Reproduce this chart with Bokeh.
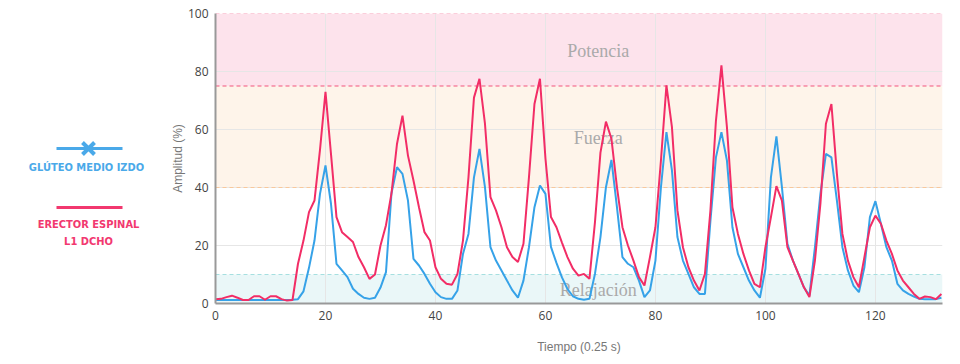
from bokeh.plotting import figure
from bokeh.models import Range1d, BoxAnnotation, Span, FixedTicker
from bokeh.layouts import row
from bokeh.core.properties import value
from bokeh.embed import file_html
from bokeh.resources import INLINE

tiempo = list(range(133))

gluteo_medio_izdo = [
    1.2, 1.2, 1.2, 1.2, 1.2, 1.2, 1.2, 1.2, 1.2, 1.2, 1.2, 1.2, 1.2, 1.2, 1.3,
    1.5, 4.2, 12.3, 21.7, 37.8, 47.6, 34.4, 13.7, 11.4, 9.1, 5.1, 3.3, 2.0, 1.6, 2.0,
    5.5, 10.8, 38.0, 47.0, 44.7, 35.5, 15.4, 13.1, 10.2, 6.8, 3.9, 2.2, 1.6, 1.6, 4.5,
    17.1, 24.0, 43.5, 53.3, 40.1, 19.4, 14.8, 11.4, 7.9, 4.5, 2.0, 7.9, 19.4, 33.2, 40.7,
    37.8, 19.5, 14.0, 9.0, 5.0, 2.5, 1.6, 1.3, 1.6, 10.2, 22.9, 40.1, 49.5, 33.2, 16.0,
    13.7, 12.5, 7.9, 2.2, 4.5, 14.8, 40.1, 59.1, 45.9, 22.9, 14.8, 10.2, 5.6, 3.3, 3.3,
    28.6, 50.4, 59.1, 49.3, 26.3, 17.1, 12.5, 7.9, 4.5, 2.0, 12.0, 43.5, 57.6, 40.1, 20.6,
    14.8, 10.2, 5.6, 2.7, 19.4, 37.8, 51.6, 50.4, 35.5, 19.4, 11.4, 6.2, 3.9, 12.5, 29.8,
    35.3, 27.5, 19.4, 14.8, 6.8, 4.5, 3.3, 2.4, 1.6, 1.5, 1.5, 1.5, 2.0,
]

erector_espinal_l1_dcho = [
    1.5, 1.6, 2.2, 2.7, 2.0, 1.2, 1.2, 2.5, 2.5, 1.3, 2.5, 2.5, 1.5, 1.0, 1.2,
    13.7, 21.7, 31.5, 35.5, 53.0, 73.0, 51.6, 29.8, 24.6, 22.9, 21.2, 16.0, 12.5, 8.5, 10.0,
    20.0, 27.0, 38.0, 55.0, 64.8, 51.0, 42.4, 33.2, 24.6, 21.7, 12.5, 8.5, 6.8, 6.5, 10.2,
    21.7, 43.5, 71.0, 77.5, 62.0, 36.7, 32.1, 26.3, 19.4, 16.0, 14.3, 20.6, 43.5, 68.8, 77.5,
    50.0, 29.8, 26.3, 21.0, 16.0, 12.0, 9.6, 10.2, 8.5, 28.0, 52.0, 62.7, 56.8, 40.1, 26.3,
    20.0, 14.8, 9.1, 6.2, 16.0, 26.3, 49.3, 75.2, 60.8, 32.1, 19.4, 12.5, 7.9, 4.5, 10.2,
    32.1, 63.0, 82.1, 60.8, 33.2, 24.0, 17.1, 11.4, 6.8, 5.6, 19.4, 29.8, 40.5, 35.5, 19.4,
    14.8, 10.2, 5.6, 2.2, 14.8, 34.4, 62.0, 68.8, 44.7, 24.0, 14.8, 9.1, 5.6, 16.0, 26.3,
    30.3, 27.5, 21.7, 17.1, 11.4, 7.9, 5.6, 3.3, 1.6, 2.4, 2.2, 1.5, 3.3,
]

zonas = ["Potencia", "Fuerza", "Relajación"]
zonas_inf = [75, 40, 0]
zonas_sup = [100, 75, 10]
zonas_texto_y = [87, 57, 4.5]
zonas_texto_x = 69.6

x_ticks = [0, 20, 40, 60, 80, 100, 120]
y_ticks = [0, 20, 40, 60, 80, 100]

serie_nombres = ["GLÚTEO MEDIO IZDO", "ERECTOR ESPINAL", "L1 DCHO"]

BLUE = "#36a2e8"
RED = "#f22d66"
LEG_BLUE = "#4aa9e9"
LEG_RED = "#f2386f"
LEG_FONT = "'Liberation Sans Narrow', 'DejaVu Sans Condensed', Roboto, sans-serif"

# ---------------- main chart ----------------
p = figure(width=792, height=356, x_range=Range1d(0, 132.2), y_range=Range1d(0, 100),
           output_backend="svg", toolbar_location=None,
           min_border_left=55, min_border_right=10, min_border_top=13, min_border_bottom=53)
p.outline_line_color = None

band_fill = ["#fde3ec", "#fef4ea", "#eaf7f8"]
for lo, hi, col in zip(zonas_inf, zonas_sup, band_fill):
    p.add_layout(BoxAnnotation(bottom=lo, top=hi, fill_color=col, fill_alpha=1.0,
                               line_color=None, level="image"))

span_specs = [(100, "#f8a3bb"), (75, "#f2557c"), (40, "#f8c89c"), (10, "#a6dfe0")]
for loc, col in span_specs:
    p.add_layout(Span(location=loc, dimension="width", line_color=col,
                      line_dash="4 3", line_width=1.2, level="underlay"))

p.text(x=[zonas_texto_x] * 3, y=zonas_texto_y, text=zonas,
       text_align="center", text_baseline="middle",
       text_font=value("Liberation Serif"), text_font_size="18px", text_color="#aaaaaa")

p.line(tiempo, gluteo_medio_izdo, line_color=BLUE, line_width=2)
p.line(tiempo, erector_espinal_l1_dcho, line_color=RED, line_width=2)

p.xgrid.grid_line_color = "#e6e6e6"
p.ygrid.grid_line_color = "#e6e6e6"
p.xaxis.ticker = FixedTicker(ticks=x_ticks)
p.yaxis.ticker = FixedTicker(ticks=y_ticks)
p.xgrid.ticker = FixedTicker(ticks=x_ticks)
p.ygrid.ticker = FixedTicker(ticks=y_ticks)

for ax in (p.xaxis[0], p.yaxis[0]):
    ax.major_tick_line_color = None
    ax.minor_tick_line_color = None
    ax.major_label_text_font = "Open Sans"
    ax.major_label_text_font_size = "12px"
    ax.major_label_text_color = "#444444"
    ax.axis_line_color = "#999999"
    ax.axis_line_width = 2
    ax.axis_label_text_font = "Liberation Sans"
    ax.axis_label_text_font_size = "12px"
    ax.axis_label_text_font_style = "normal"
    ax.axis_label_text_color = "#777777"

p.xaxis.axis_label = "Tiempo (0.25 s)"
p.yaxis.axis_label = "Amplitud (%)"
p.xaxis.major_label_standoff = 1
p.yaxis.major_label_standoff = 1
p.xaxis.axis_label_standoff = 17
p.yaxis.axis_label_standoff = 0

# ---------------- legend panel (data units = page pixels) ----------------
lf = figure(width=160, height=356, x_range=Range1d(0, 160), y_range=Range1d(303, 13),
            x_axis_type=None, y_axis_type=None,
            output_backend="svg", toolbar_location=None,
            min_border_left=0, min_border_right=0, min_border_top=13, min_border_bottom=53)
lf.grid.visible = False
lf.outline_line_color = None

lf.line([56, 122], [148, 148], line_color=LEG_BLUE, line_width=3)
lf.scatter([88], [148], marker="x", size=17, line_width=4, line_color=LEG_BLUE)
lf.line([56, 122], [207, 207], line_color=LEG_RED, line_width=3)

lf.text(x=[86, 88, 88], y=[167, 224, 241], text=serie_nombres,
        text_align="center", text_baseline="middle",
        text_font=value(LEG_FONT), text_font_style="bold",
        text_font_size="11px", text_color=[LEG_BLUE, LEG_RED, LEG_RED])

layout = row(lf, p)
open("out.html", "w").write(file_html(layout, INLINE))
